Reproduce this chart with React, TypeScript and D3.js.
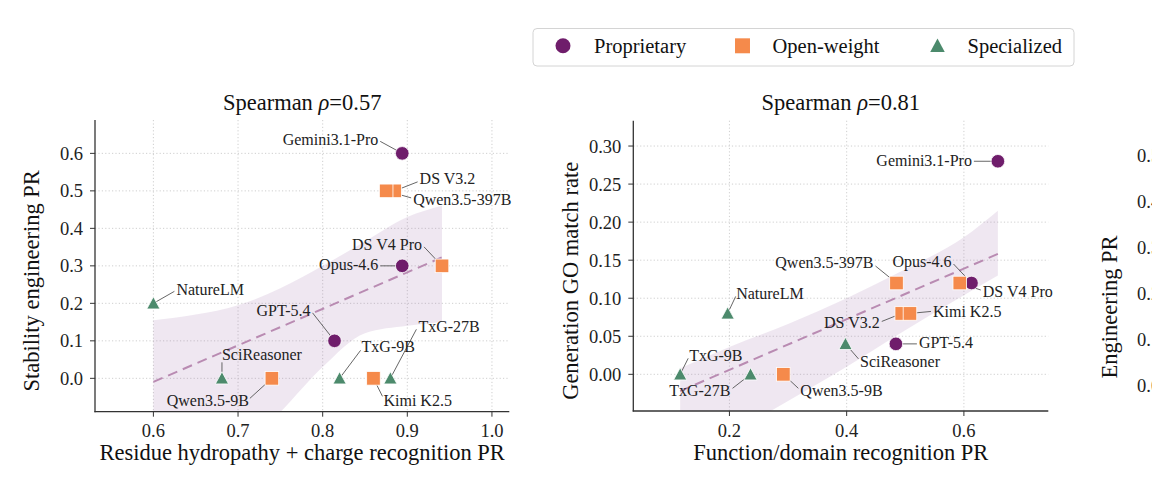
import * as d3 from "d3";

const models = ["Gemini3.1-Pro", "Opus-4.6", "GPT-5.4", "DS V3.2", "DS V4 Pro", "Kimi K2.5", "Qwen3.5-397B", "Qwen3.5-9B", "NatureLM", "SciReasoner", "TxG-9B", "TxG-27B"];
const groups = ["Proprietary", "Proprietary", "Proprietary", "Open-weight", "Open-weight", "Open-weight", "Open-weight", "Open-weight", "Specialized", "Specialized", "Specialized", "Specialized"];
const groupNames = ["Proprietary", "Open-weight", "Specialized"];

// panel 1
const hydroChargePR = [0.894, 0.894, 0.814, 0.885, 0.941, 0.86, 0.875, 0.74, 0.6, 0.681, 0.82, 0.88];
const stabilityPR = [0.6, 0.3, 0.1, 0.5, 0.3, 0.0, 0.5, 0.0, 0.2, 0.0, 0.0, 0.0];
// panel 2
const functionPR = [0.658, 0.613, 0.484, 0.494, 0.593, 0.508, 0.485, 0.292, 0.197, 0.398, 0.116, 0.236];
const goMatchRate = [0.28, 0.12, 0.04, 0.08, 0.12, 0.08, 0.12, 0.0, 0.08, 0.04, 0.0, 0.0];

const rhoValues = ["0.57", "0.81"];

// bootstrap CI band
const band1X = [0.6, 0.65, 0.7, 0.75, 0.8, 0.85, 0.9, 0.941];
const band1Lo = [-0.4, -0.3, -0.2, -0.09, 0.03, 0.12, 0.14, 0.15];
const band1Hi = [0.155, 0.17, 0.195, 0.24, 0.3, 0.365, 0.43, 0.46];
const band2X = [0.116, 0.2, 0.3, 0.4, 0.5, 0.6, 0.658];
const band2Lo = [-0.12, -0.08, -0.035, 0.01, 0.058, 0.104, 0.13];
const band2Hi = [0.008, 0.036, 0.066, 0.1, 0.138, 0.18, 0.215];

const p1XTicks = [0.6, 0.7, 0.8, 0.9, 1.0];
const p1YTicks = [0.0, 0.1, 0.2, 0.3, 0.4, 0.5, 0.6];
const p2XTicks = [0.2, 0.4, 0.6];
const p2YTicks = [0.0, 0.05, 0.1, 0.15, 0.2, 0.25, 0.3];
const p3YTicks = [0.0, 0.1, 0.2, 0.3, 0.4, 0.5];

const colors: Record<string, string> = {
  "Proprietary": "#6f1d6b",
  "Open-weight": "#f58a4b",
  "Specialized": "#4c8a6c",
};

// label placement: [text dx, text dy, anchor, line dx, line dy]
type Lab = [number, number, string, number, number];
const labels1: Record<string, Lab> = {
  "Gemini3.1-Pro": [-24, -14, "end", -22, -12],
  "DS V3.2": [25, -12, "start", 23, -9],
  "Qwen3.5-397B": [27, 9, "start", 25, 7],
  "DS V4 Pro": [-20, -21, "end", -18, -19],
  "Opus-4.6": [-24, -1, "end", -22, 0],
  "NatureLM": [23, -14, "start", 21, -12],
  "GPT-5.4": [-24, -30, "end", -22, -28],
  "SciReasoner": [0, -24, "start", 0, -16],
  "Qwen3.5-9B": [-23, 22, "end", -22, 20],
  "TxG-9B": [22, -32, "start", 21, -28],
  "Kimi K2.5": [10, 22, "start", 9, 18],
  "TxG-27B": [28, -52, "start", 26, -49],
};
const labels2: Record<string, Lab> = {
  "Gemini3.1-Pro": [-26, -1, "end", -24, 0],
  "Opus-4.6": [-20, -21, "end", -18, -19],
  "DS V4 Pro": [23, 9, "start", 21, 7],
  "Qwen3.5-397B": [-23, -20, "end", -21, -17],
  "DS V3.2": [-22, 9, "end", -20, 8],
  "Kimi K2.5": [23, -2, "start", 21, -2],
  "NatureLM": [8.5, -20, "start", 8, -17],
  "GPT-5.4": [23, -1, "start", 21, 0],
  "SciReasoner": [14.5, 18, "start", 13, 15],
  "TxG-9B": [9, -19, "start", 8, -16],
  "TxG-27B": [-20, 16, "end", -18, 14],
  "Qwen3.5-9B": [17, 16, "start", 15, 14],
};

const FONT = "'Liberation Serif', 'DejaVu Serif', serif";

function Marker({ group, cx, cy, legend = false }: { group: string, cx: number, cy: number, legend?: boolean }) {
  const c = colors[group];
  const k = legend ? 1.1 : 1;
  if (group === "Proprietary") {
    return <circle cx={cx} cy={cy} r={6.8 * k} fill={c} stroke="white" strokeWidth={legend ? 0 : 0.8} />;
  }
  if (group === "Open-weight") {
    const s = 13.6 * k;
    return <rect x={cx - s / 2} y={cy - s / 2} width={s} height={s} fill={c} stroke="white" strokeWidth={legend ? 0 : 0.8} />;
  }
  const h = 6.6 * k;
  return <path d={`M${cx},${cy - h}L${cx + h},${cy + h * 0.85}L${cx - h},${cy + h * 0.85}Z`} fill={c} stroke="white" strokeWidth={legend ? 0 : 0.8} />;
}

function Panel({
  xs, ys, xDomain, yDomain, left, right, top, bottom,
  xTicks, yTicks, xFmt, yFmt, xLabel, yLabel, yLabelX, rho,
  bandX, bandLo, bandHi, layout, clipId,
}: any) {
  const x = d3.scaleLinear(xDomain, [left, right]);
  const y = d3.scaleLinear(yDomain, [bottom, top]);

  const mx = d3.mean(xs as number[])!;
  const my = d3.mean(ys as number[])!;
  const sxy = d3.sum(xs as number[], (v, i) => (v - mx) * (ys[i] - my));
  const sxx = d3.sum(xs as number[], v => (v - mx) ** 2);
  const slope = sxy / sxx;
  const icpt = my - slope * mx;
  const [xa, xb] = d3.extent(xs as number[]) as [number, number];

  const band = d3.area<number>()
    .x(d => x(bandX[d]))
    .y0(d => y(bandLo[d]))
    .y1(d => y(bandHi[d]))
    .curve(d3.curveMonotoneX);

  const fit = d3.line<number>()
    .x(d => x(d))
    .y(d => y(icpt + slope * d));

  const order = d3.range(models.length);
  const cy = (top + bottom) / 2;
  const cx = (left + right) / 2;

  return (
    <g>
      <defs>
        <clipPath id={clipId}>
          <rect x={left} y={top} width={right - left} height={bottom - top} />
        </clipPath>
      </defs>
      {/* grid */}
      <g stroke="#c9c9c9" strokeWidth={0.9} strokeDasharray="1.2,2.2">
        {xTicks.map((t: number) => <line key={"gx" + t} x1={x(t)} x2={x(t)} y1={top} y2={bottom} />)}
        {yTicks.map((t: number) => <line key={"gy" + t} x1={left} x2={right} y1={y(t)} y2={y(t)} />)}
      </g>
      <g clipPath={`url(#${clipId})`}>
        <path d={band(d3.range(bandX.length)) ?? ""} fill="#9b6aa6" fillOpacity={0.16} />
        <path d={fit([xa, xb]) ?? ""} fill="none" stroke="#b98bb2" strokeWidth={2} strokeDasharray="10,6" />
      </g>
      {/* connectors */}
      <g stroke="#555" strokeWidth={0.9}>
        {order.map(i => {
          const l = layout[models[i]];
          const px = x(xs[i]), py = y(ys[i]);
          return <line key={"c" + i} x1={px} y1={py} x2={px + l[3]} y2={py + l[4]} />;
        })}
      </g>
      {order.map(i => <Marker key={"m" + i} group={groups[i]} cx={x(xs[i])} cy={y(ys[i])} />)}
      <g fontSize={16} fill="#222">
        {order.map(i => {
          const l = layout[models[i]];
          return (
            <text key={"t" + i} x={x(xs[i]) + l[0]} y={y(ys[i]) + l[1]} dy="0.33em" textAnchor={l[2]}>
              {models[i]}
            </text>
          );
        })}
      </g>
      {/* axes */}
      <g stroke="#333" strokeWidth={1.3}>
        <line x1={left} x2={left} y1={top} y2={bottom + 0.6} />
        <line x1={left - 0.6} x2={right} y1={bottom} y2={bottom} />
        {xTicks.map((t: number) => <line key={"tx" + t} x1={x(t)} x2={x(t)} y1={bottom} y2={bottom + 5} strokeWidth={1} />)}
        {yTicks.map((t: number) => <line key={"ty" + t} x1={left - 5} x2={left} y1={y(t)} y2={y(t)} strokeWidth={1} />)}
      </g>
      <g fontSize={18.5} fill="#222">
        {xTicks.map((t: number) => <text key={"lx" + t} x={x(t)} y={bottom + 25.5} textAnchor="middle">{xFmt(t)}</text>)}
        {yTicks.map((t: number) => <text key={"ly" + t} x={left - 12} y={y(t)} dy="0.35em" textAnchor="end">{yFmt(t)}</text>)}
      </g>
      <text x={cx} y={460} fontSize={22.5} textAnchor="middle" fill="#111">{xLabel}</text>
      <text transform={`translate(${yLabelX},${cy + 15}) rotate(-90)`} fontSize={22.5} textAnchor="middle" fill="#111">{yLabel}</text>
      <text x={cx} y={110} fontSize={22.5} textAnchor="middle" fill="#111">
        Spearman <tspan fontStyle="italic">ρ</tspan>={rho}
      </text>
    </g>
  );
}

export default function App() {
  const y3 = d3.scaleLinear([0, 0.5], [386, 156]);
  const legendX = [563, 742.5, 937.5];
  const legendTextX = [594, 772.5, 967.5];
  return (
    <svg width={1152} height={490} style={{ position: "absolute", left: 0, top: 0, background: "white" }} fontFamily={FONT}>
      <rect width={1152} height={490} fill="white" />
      <Panel
        xs={hydroChargePR} ys={stabilityPR}
        xDomain={[0.531, 1.0205]} yDomain={[-0.089, 0.689]}
        left={95} right={509.3} top={120} bottom={411.7}
        xTicks={p1XTicks} yTicks={p1YTicks}
        xFmt={d3.format(".1f")} yFmt={d3.format(".1f")}
        xLabel="Residue hydropathy + charge recognition PR"
        yLabel="Stability engineering PR" yLabelX={39}
        rho={rhoValues[0]}
        bandX={band1X} bandLo={band1Lo} bandHi={band1Hi}
        layout={labels1} clipId="clip1"
      />
      <Panel
        xs={functionPR} ys={goMatchRate}
        xDomain={[0.036, 0.744]} yDomain={[-0.0482, 0.3333]}
        left={633.3} right={1048.3} top={120.7} bottom={411}
        xTicks={p2XTicks} yTicks={p2YTicks}
        xFmt={d3.format(".1f")} yFmt={d3.format(".2f")}
        xLabel="Function/domain recognition PR"
        yLabel="Generation GO match rate" yLabelX={578}
        rho={rhoValues[1]}
        bandX={band2X} bandLo={band2Lo} bandHi={band2Hi}
        layout={labels2} clipId="clip2"
      />
      {/* third panel, cut off at the right edge */}
      <text transform="translate(1117,307) rotate(-90)" fontSize={22.5} textAnchor="middle" fill="#111">Engineering PR</text>
      <g fontSize={18.5} fill="#222">
        {p3YTicks.map(t => <text key={t} x={1137} y={y3(t)} dy="0.35em">{d3.format(".1f")(t)}</text>)}
      </g>
      {/* legend */}
      <rect x={533} y={28.5} width={541} height={37.5} rx={4} fill="white" stroke="#d4d4d4" strokeWidth={1} />
      {groupNames.map((g, i) => (
        <g key={g}>
          <Marker group={g} cx={legendX[i]} cy={45.8} legend />
          <text x={legendTextX[i]} y={53} fontSize={20.5} fill="#111">{g}</text>
        </g>
      ))}
    </svg>
  );
}
